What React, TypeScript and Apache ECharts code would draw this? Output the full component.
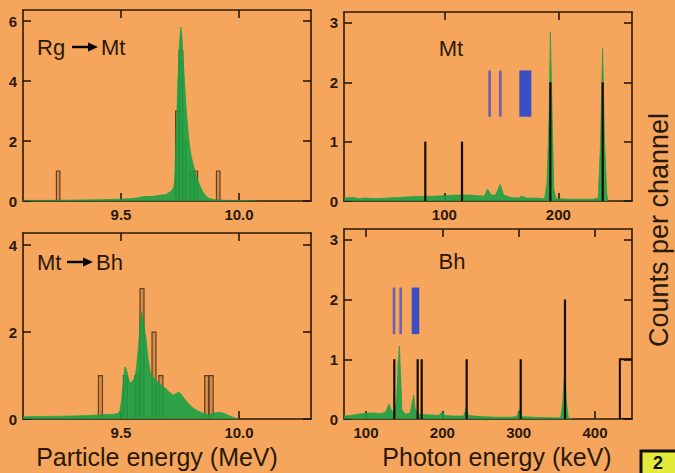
import React, { useEffect, useRef } from "react";
import * as echarts from "echarts";

// ---------- Top-left: Rg -> Mt alpha spectrum ----------
const rgMtEnergy = [9.085, 9.2, 9.3, 9.4, 9.45, 9.5, 9.55, 9.58, 9.6, 9.63, 9.66, 9.69, 9.708, 9.72, 9.725, 9.729, 9.733, 9.737, 9.741, 9.746, 9.751, 9.754, 9.758, 9.763, 9.769, 9.775, 9.781, 9.788, 9.795, 9.803, 9.813, 9.824, 9.835, 9.845, 9.856, 9.87, 9.89, 9.92, 9.96, 10.02, 10.076];
const rgMtFit = [0.02, 0.02, 0.03, 0.04, 0.05, 0.06, 0.08, 0.12, 0.15, 0.15, 0.18, 0.22, 0.3, 0.4, 0.5, 1.0, 2.0, 3.0, 4.0, 5.0, 5.6, 5.8, 5.5, 4.8, 4.0, 3.2, 2.6, 2.0, 1.6, 1.3, 1.0, 0.72, 0.5, 0.33, 0.2, 0.1, 0.05, 0.03, 0.02, 0.01, 0.0];
const rgMtBarEnergy = [9.234, 9.739, 9.754, 9.768, 9.8, 9.817, 9.912];
const rgMtBarCounts = [1, 3, 5, 2, 1, 1, 1];

// ---------- Bottom-left: Mt -> Bh alpha spectrum ----------
const mtBhEnergy = [9.085, 9.2, 9.3, 9.37, 9.43, 9.47, 9.49, 9.496, 9.503, 9.51, 9.517, 9.524, 9.531, 9.538, 9.545, 9.552, 9.559, 9.566, 9.573, 9.58, 9.588, 9.596, 9.606, 9.615, 9.623, 9.63, 9.637, 9.65, 9.665, 9.68, 9.694, 9.708, 9.722, 9.733, 9.743, 9.753, 9.764, 9.778, 9.792, 9.806, 9.821, 9.835, 9.849, 9.863, 9.877, 9.892, 9.905, 9.92, 9.935, 9.948, 9.965, 9.98, 9.99, 10.0];
const mtBhFit = [0.05, 0.06, 0.07, 0.08, 0.1, 0.11, 0.13, 0.2, 0.45, 0.9, 1.2, 1.12, 0.95, 0.82, 0.85, 0.9, 0.95, 1.2, 1.6, 2.1, 2.47, 2.2, 1.85, 1.4, 1.1, 1.0, 0.95, 0.88, 0.8, 0.74, 0.68, 0.6, 0.55, 0.58, 0.62, 0.58, 0.5, 0.4, 0.32, 0.25, 0.2, 0.16, 0.13, 0.1, 0.1, 0.13, 0.15, 0.15, 0.13, 0.1, 0.06, 0.03, 0.01, 0.0];
const mtBhBarEnergy = [9.413, 9.519, 9.568, 9.589, 9.64, 9.669, 9.863, 9.882];
const mtBhBarCounts = [1, 1, 1, 3, 2, 1, 1, 1];

// ---------- Top-right: Mt photon spectrum ----------
const mtGammaEnergy = [12.3, 20, 25, 30, 40, 50, 60, 70, 80, 90, 100, 110, 120, 130, 135, 138, 141, 145, 149, 152, 158, 165, 168, 172, 180, 188, 190, 192, 193, 194.5, 196, 198, 210, 220, 230, 235, 237, 238.8, 240.5, 242.5, 243.6];
const mtGammaFit = [0.05, 0.06, 0.04, 0.05, 0.04, 0.05, 0.06, 0.07, 0.08, 0.08, 0.09, 0.1, 0.1, 0.09, 0.08, 0.2, 0.1, 0.1, 0.28, 0.1, 0.06, 0.05, 0.08, 0.05, 0.05, 0.04, 0.3, 1.5, 2.85, 1.5, 0.2, 0.04, 0.03, 0.03, 0.03, 0.05, 1.0, 2.57, 1.0, 0.1, 0.0];
const mtLineEnergy = [83.3, 115.5, 193, 238.9];
const mtLineCounts = [1, 1, 2, 2];
const mtThinMarks = [139.7, 149.1];
const mtBand = [165.8, 176.3];

// ---------- Bottom-right: Bh photon spectrum ----------
const bhGammaEnergy = [71.2, 80, 90, 100, 110, 120, 126, 130, 133, 136, 140, 142, 143.7, 145.5, 147, 152, 158, 161, 162.5, 164, 167, 180, 195, 200, 203, 215, 228, 231, 234, 250, 270, 290, 298, 300, 302, 320, 340, 355, 358, 360.5, 362.5, 365, 370];
const bhGammaFit = [0.05, 0.06, 0.08, 0.1, 0.1, 0.09, 0.12, 0.25, 0.15, 0.1, 0.3, 0.9, 1.22, 0.7, 0.15, 0.08, 0.1, 0.3, 0.4, 0.2, 0.08, 0.07, 0.06, 0.12, 0.06, 0.05, 0.05, 0.18, 0.06, 0.04, 0.03, 0.03, 0.04, 0.15, 0.04, 0.03, 0.02, 0.02, 0.3, 0.9, 0.3, 0.02, 0.0];
const bhLineEnergy = [137.1, 167.7, 173, 231.9, 302.7, 360.7];
const bhLineCounts = [1, 1, 1, 1, 1, 2];
const bhBoxStart = [432.6];
const bhBoxEnd = [470];
const bhBoxCounts = [1];
const bhThinMarks = [136.7, 145.4];
const bhBand = [159.9, 169.8];

const markLow = 1.42;
const markHigh = 2.2;

// ---------- Axis ticks ----------
const alphaTicks = [9.5, 10.0];
const mtTicks = [100, 200];
const bhTicks = [100, 200, 300, 400];
const tlYTicks = [0, 2, 4, 6];
const blYTicks = [0, 2, 4];
const rYTicks = [0, 1, 2, 3];

const BG = "#F6A65C";
const INK = "#2a190b";
const GREEN = "#14A143";
const FONT = "Liberation Sans, Arial, sans-serif";

const zip = (a: number[], b: number[]) => a.map((v, k) => [v, b[k]]);

function axisPair(kind: "x" | "y", gridIndex: number, min: number, max: number, ticks: number[], fmt: (v: number) => string) {
  const base = {
    type: "value",
    gridIndex,
    min,
    max,
    splitLine: { show: false },
    axisLine: { show: true, onZero: false, lineStyle: { color: INK, width: 1.6 } },
    axisTick: { show: true, inside: true, length: 8, customValues: ticks, lineStyle: { color: INK, width: 1.6 } },
  };
  const label = {
    show: true,
    customValues: ticks,
    formatter: (v: number) => fmt(v),
    color: INK,
    fontSize: 15,
    fontWeight: "bold",
    fontFamily: FONT,
    margin: 6,
  };
  return [
    { ...base, position: kind === "x" ? "bottom" : "left", axisLabel: label },
    { ...base, position: kind === "x" ? "top" : "right", axisLabel: { show: false } },
  ];
}

function barSeries(idx: number, data: number[][], w: number) {
  return {
    type: "custom",
    xAxisIndex: idx * 2,
    yAxisIndex: idx * 2,
    clip: true,
    z: 2,
    data,
    renderItem: (_p: any, api: any) => {
      const x = api.value(0);
      const h = api.value(1);
      const a = api.coord([x - w / 2, h]);
      const b = api.coord([x + w / 2, 0]);
      return {
        type: "rect",
        shape: { x: a[0], y: a[1], width: b[0] - a[0], height: b[1] - a[1] },
        style: { fill: "rgba(130,75,30,0.3)", stroke: "#654020", lineWidth: 1.2 },
      };
    },
  };
}

function lineSeries(idx: number, data: number[][]) {
  return {
    type: "custom",
    xAxisIndex: idx * 2,
    yAxisIndex: idx * 2,
    clip: true,
    z: 4,
    data,
    renderItem: (_p: any, api: any) => {
      const x = api.value(0);
      const h = api.value(1);
      const a = api.coord([x, h]);
      const b = api.coord([x, 0]);
      return {
        type: "line",
        shape: { x1: a[0], y1: a[1], x2: b[0], y2: b[1] },
        style: { stroke: "#160c05", lineWidth: 2.2 },
      };
    },
  };
}

function markSeries(idx: number, thin: number[], band: number[]) {
  const data = [...thin.map((x) => [x, x, 0]), [band[0], band[1], 1]];
  return {
    type: "custom",
    xAxisIndex: idx * 2,
    yAxisIndex: idx * 2,
    clip: true,
    z: 4,
    data,
    renderItem: (_p: any, api: any) => {
      const x0 = api.value(0);
      const x1 = api.value(1);
      const thick = api.value(2) === 1;
      const a = api.coord([x0, markHigh]);
      const b = api.coord([x1, markLow]);
      if (thick) {
        return {
          type: "rect",
          shape: { x: a[0], y: a[1], width: b[0] - a[0], height: b[1] - a[1] },
          style: { fill: "#3a4fc2" },
        };
      }
      return {
        type: "rect",
        shape: { x: a[0] - 1.3, y: a[1], width: 2.6, height: b[1] - a[1] },
        style: { fill: "#6e60ad" },
      };
    },
  };
}

function fitSeries(idx: number, data: number[][]) {
  return {
    type: "line",
    xAxisIndex: idx * 2,
    yAxisIndex: idx * 2,
    data,
    symbol: "none",
    smooth: false,
    clip: true,
    z: 3,
    lineStyle: { color: GREEN, width: 0.8, opacity: 0.88 },
    areaStyle: { color: GREEN, opacity: 0.88 },
  };
}

function arrowLabel(x: number, y: number, left: string, right: string, gap: number) {
  return {
    type: "group",
    children: [
      { type: "text", x, y, style: { text: left, font: `22px ${FONT}`, fill: INK, verticalAlign: "middle" } },
      { type: "line", shape: { x1: x + gap, y1: y, x2: x + gap + 18, y2: y }, style: { stroke: "#000", lineWidth: 2.4 } },
      { type: "polygon", shape: { points: [[x + gap + 16, y - 4.5], [x + gap + 26, y], [x + gap + 16, y + 4.5]] }, style: { fill: "#000" } },
      { type: "text", x: x + gap + 29, y, style: { text: right, font: `22px ${FONT}`, fill: INK, verticalAlign: "middle" } },
    ],
  };
}

export default function App() {
  const ref = useRef<HTMLDivElement>(null);
  useEffect(() => {
    if (!ref.current) return;
    const chart = echarts.init(ref.current, null, { renderer: "svg" });
    const f1 = (v: number) => v.toFixed(1);
    const f0 = (v: number) => String(Math.round(v));
    const xAxes = [
      ...axisPair("x", 0, 9.085, 10.305, alphaTicks, f1),
      ...axisPair("x", 1, 9.085, 10.305, alphaTicks, f1),
      ...axisPair("x", 2, 12.0, 264.6, mtTicks, f0),
      ...axisPair("x", 3, 71.2, 448.5, bhTicks, f0),
    ];
    const yAxes = [
      ...axisPair("y", 0, 0, 6.37, tlYTicks, f0),
      ...axisPair("y", 1, 0, 4.28, blYTicks, f0),
      ...axisPair("y", 2, 0, 3.185, rYTicks, f0),
      ...axisPair("y", 3, 0, 3.18, rYTicks, f0),
    ];
    const option: any = {
      animation: false,
      backgroundColor: BG,
      grid: [
        { left: 23, top: 10, width: 288, height: 191 },
        { left: 23, top: 233, width: 288, height: 186 },
        { left: 344, top: 12, width: 288, height: 189 },
        { left: 344, top: 229, width: 288, height: 190 },
      ],
      xAxis: xAxes,
      yAxis: yAxes,
      series: [
        fitSeries(0, zip(rgMtEnergy, rgMtFit)),
        barSeries(0, zip(rgMtBarEnergy, rgMtBarCounts), 0.015),
        fitSeries(1, zip(mtBhEnergy, mtBhFit)),
        barSeries(1, zip(mtBhBarEnergy, mtBhBarCounts), 0.017),
        fitSeries(2, zip(mtGammaEnergy, mtGammaFit)),
        lineSeries(2, zip(mtLineEnergy, mtLineCounts)),
        markSeries(2, mtThinMarks, mtBand),
        fitSeries(3, zip(bhGammaEnergy, bhGammaFit)),
        lineSeries(3, zip(bhLineEnergy, bhLineCounts)),
        {
          type: "custom",
          xAxisIndex: 6,
          yAxisIndex: 6,
          clip: true,
          z: 4,
          data: bhBoxStart.map((s, k) => [s, bhBoxEnd[k], bhBoxCounts[k]]),
          renderItem: (_p: any, api: any) => {
            const a = api.coord([api.value(0), api.value(2)]);
            const b = api.coord([api.value(1), 0]);
            return {
              type: "rect",
              shape: { x: a[0], y: a[1], width: b[0] - a[0], height: b[1] - a[1] },
              style: { fill: "none", stroke: "#160c05", lineWidth: 2 },
            };
          },
        },
        markSeries(3, bhThinMarks, bhBand),
      ],
      graphic: [
        arrowLabel(37, 47, "Rg", "Mt", 35),
        arrowLabel(37, 262, "Mt", "Bh", 30),
        { type: "text", x: 451, y: 48, style: { text: "Mt", font: `22px ${FONT}`, fill: INK, align: "center", verticalAlign: "middle" } },
        { type: "text", x: 452, y: 261, style: { text: "Bh", font: `22px ${FONT}`, fill: INK, align: "center", verticalAlign: "middle" } },
        { type: "text", x: 157, y: 457, style: { text: "Particle energy (MeV)", font: `25px ${FONT}`, fill: INK, align: "center", verticalAlign: "middle" } },
        { type: "text", x: 497, y: 457, style: { text: "Photon energy (keV)", font: `25px ${FONT}`, fill: INK, align: "center", verticalAlign: "middle" } },
        { type: "text", x: 659, y: 230, rotation: Math.PI / 2, style: { text: "Counts per channel", font: `27px ${FONT}`, fill: INK, align: "center", verticalAlign: "middle" } },
        { type: "rect", shape: { x: 641, y: 451, width: 40, height: 30 }, style: { fill: "#E2EA3A", stroke: "#111", lineWidth: 3 } },
        { type: "text", x: 658, y: 454, style: { text: "2", font: `bold 18px ${FONT}`, fill: "#111", align: "center", verticalAlign: "top" } },
      ],
    };
    chart.setOption(option);
    return () => chart.dispose();
  }, []);
  return <div ref={ref} style={{ position: "fixed", left: 0, top: 0, width: 675, height: 473 }} />;
}
